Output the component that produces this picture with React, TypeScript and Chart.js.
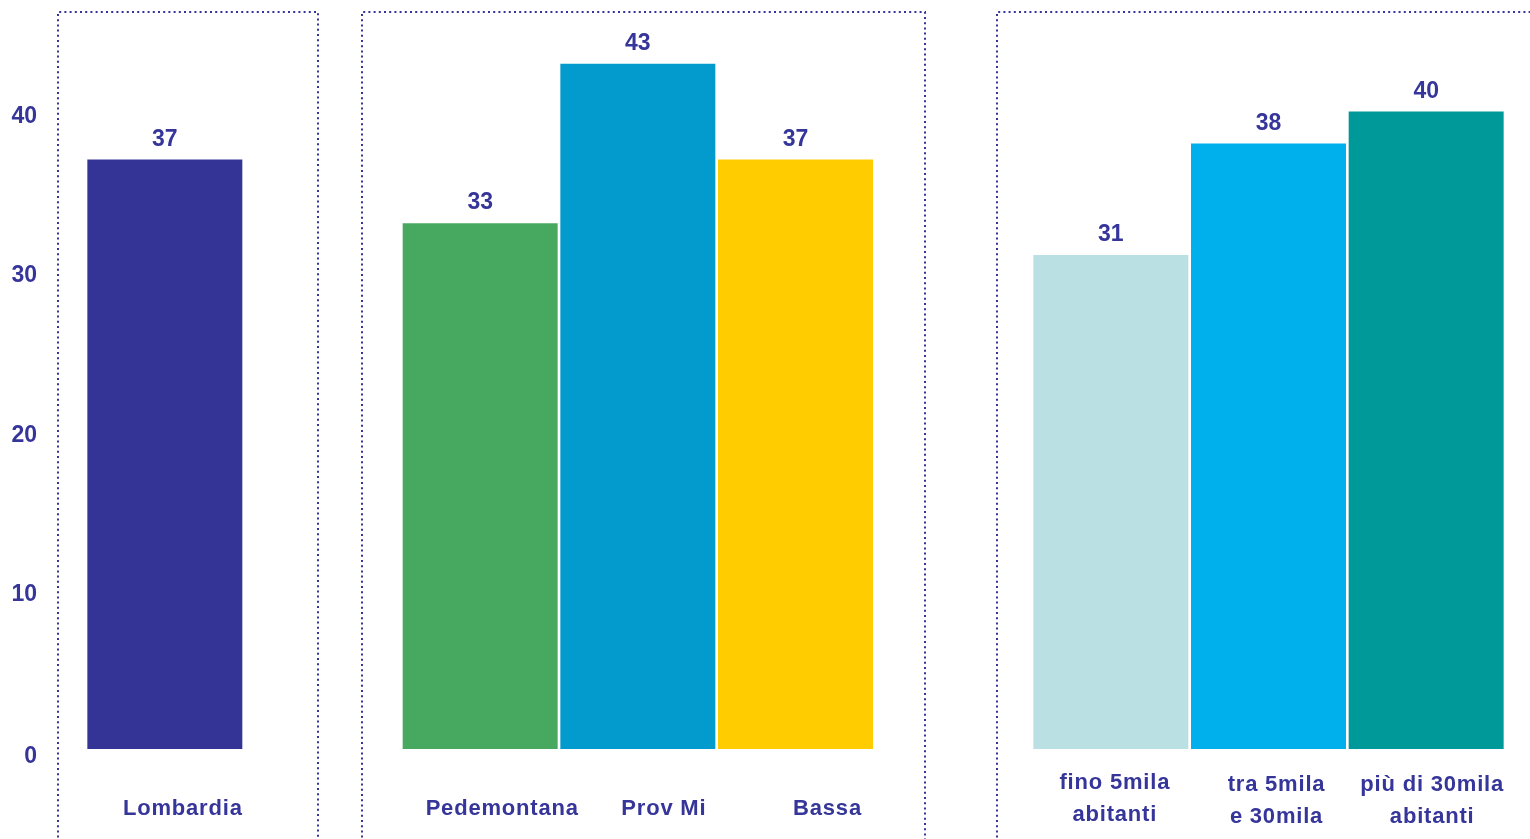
import React, { useEffect, useRef } from "react";
import { Chart, registerables } from "chart.js";

Chart.register(...registerables);

// ---- data ----
const CATEGORIES: string[][] = [
  ["Lombardia"],
  [],
  ["Pedemontana"],
  ["Prov Mi"],
  ["Bassa"],
  [],
  ["fino 5mila", "abitanti"],
  ["tra 5mila", "e 30mila"],
  ["più di 30mila", "abitanti"],
];
const VALUES: (number | null)[] = [37, null, 33, 43, 37, null, 31, 38, 40];
const BAR_COLORS = [
  "#343497",
  "rgba(0,0,0,0)",
  "#47A85F",
  "#039BCD",
  "#FFCC00",
  "rgba(0,0,0,0)",
  "#BBE0E3",
  "#00B0EC",
  "#009999",
];
const Y_TICKS = [0, 10, 20, 30, 40];

// ---- style ----
const TEXT_COLOR = "#35359A";
const FONT_FAMILY = "'Liberation Sans', Arial, sans-serif";
const LABEL_DX = [18, 0, 22, 26, 32, 0, 4, 8, 6];
const LABEL_CLIP = [false, false, false, false, false, false, false, true, true];

const boxesPlugin = {
  id: "boxes",
  beforeDraw(chart: any) {
    const ctx = chart.ctx;
    ctx.save();
    ctx.strokeStyle = "#34349A";
    ctx.lineWidth = 2;
    ctx.setLineDash([2, 3.2]);
    const boxes = [
      [58, 318],
      [362, 925],
      [997, 1560],
    ];
    for (const [l, r] of boxes) {
      ctx.beginPath();
      ctx.moveTo(l, 900);
      ctx.lineTo(l, 12);
      ctx.lineTo(r, 12);
      ctx.lineTo(r, 900);
      ctx.stroke();
    }
    ctx.restore();
  },
};

const labelsPlugin = {
  id: "labels",
  afterDatasetsDraw(chart: any) {
    const ctx = chart.ctx;
    const xs = chart.scales.x;
    const ys = chart.scales.y;
    ctx.save();
    ctx.fillStyle = TEXT_COLOR;
    ctx.font = `bold 23px ${FONT_FAMILY}`;
    ctx.textBaseline = "middle";
    // y-axis tick labels
    ctx.textAlign = "right";
    Y_TICKS.forEach((v) => {
      ctx.fillText(String(v), 37, ys.getPixelForValue(v) + 5 + (v === 0 ? 3 : 0));
    });
    // value labels
    ctx.textAlign = "center";
    VALUES.forEach((v, i) => {
      if (v == null) return;
      const x = xs.getPixelForValue(i);
      const y = ys.getPixelForValue(v);
      ctx.fillText(String(v), x, y - 20);
    });
    // category labels
    ctx.font = `bold 22px ${FONT_FAMILY}`;
    try {
      (ctx as any).letterSpacing = "0.8px";
    } catch (e) {}
    CATEGORIES.forEach((lines, i) => {
      if (!lines.length) return;
      const x = xs.getPixelForValue(i) + LABEL_DX[i];
      ctx.save();
      if (LABEL_CLIP[i]) {
        ctx.beginPath();
        ctx.rect(x - 100, 700, 200, 126);
        ctx.clip();
      }
      if (lines.length === 1) {
        ctx.fillText(lines[0], x, 809);
      } else {
        lines.forEach((t, k) => ctx.fillText(t, x, (i === 6 ? 783 : 785) + k * 32));
      }
      ctx.restore();
    });
    ctx.restore();
  },
};

export default function App() {
  const ref = useRef<HTMLCanvasElement | null>(null);
  useEffect(() => {
    if (!ref.current) return;
    const chart = new Chart(ref.current, {
      type: "bar",
      data: {
        labels: CATEGORIES.map((c) => c.join(" ")),
        datasets: [
          {
            data: VALUES,
            backgroundColor: BAR_COLORS,
            borderWidth: 0,
            barPercentage: 0.983,
            categoryPercentage: 1,
          },
        ],
      },
      options: {
        animation: false,
        responsive: false,
        layout: { padding: { left: 0, right: 25, top: 16, bottom: 90 } },
        plugins: { legend: { display: false }, tooltip: { enabled: false } },
        scales: {
          x: { display: false },
          y: {
            min: 0,
            max: 46,
            border: { display: false },
            grid: { display: false, drawTicks: false, tickLength: 0 },
            afterFit(scale: any) {
              scale.width = 86;
            },
            ticks: { display: false, stepSize: 10 },
          },
        },
      },
      plugins: [boxesPlugin, labelsPlugin],
    });
    return () => chart.destroy();
  }, []);
  return (
    <div style={{ position: "fixed", left: 0, top: 0, width: 1530, height: 839, background: "#fff" }}>
      <canvas ref={ref} width={1530} height={839} style={{ display: "block" }} />
    </div>
  );
}
